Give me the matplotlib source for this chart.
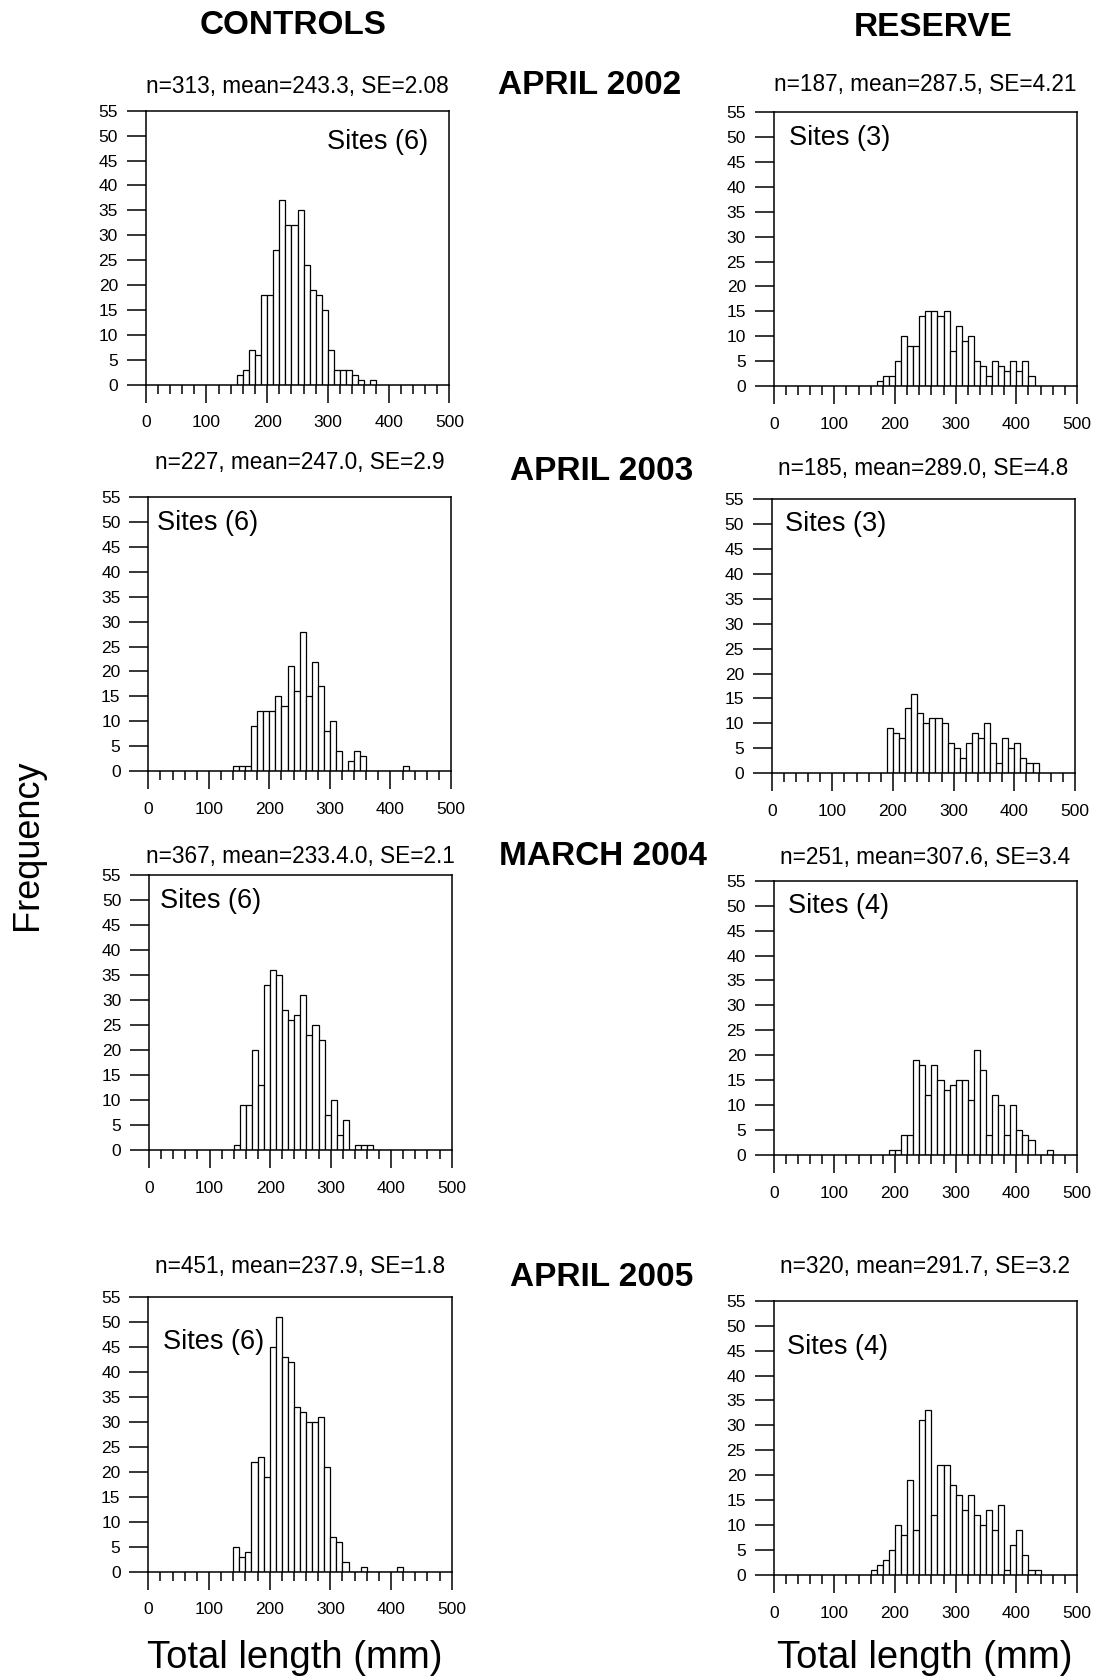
import matplotlib
matplotlib.use("Agg")
import matplotlib.pyplot as plt
import numpy as np
from matplotlib.ticker import MultipleLocator

plt.rcParams["font.family"] = ["Liberation Sans", "DejaVu Sans"]

# length-frequency counts in 10 mm classes; *_lo is the lower edge of the first class
bin_width = 10

ctrl_2002_lo = 150
ctrl_2002 = [2, 3, 7, 6, 18, 18, 27, 37, 32, 32, 35, 24, 19, 18, 15, 7, 3, 3, 3, 2, 1, 0, 1]
res_2002_lo = 170
res_2002 = [1, 2, 2, 5, 10, 8, 8, 14, 15, 15, 14, 15, 7, 12, 9, 10, 5, 4, 2, 5, 4, 3, 5, 3, 5, 2]

ctrl_2003_lo = 140
ctrl_2003 = [1, 1, 1, 9, 12, 12, 12, 15, 13, 21, 16, 28, 15, 22, 17, 8, 10, 4, 0, 2, 4, 3,
             0, 0, 0, 0, 0, 0, 1]
res_2003_lo = 190
res_2003 = [9, 8, 7, 13, 16, 12, 10, 11, 11, 10, 6, 5, 3, 6, 8, 7, 10, 6, 2, 7, 5, 6, 3, 2, 2]

ctrl_2004_lo = 140
ctrl_2004 = [1, 9, 9, 20, 13, 33, 36, 35, 28, 26, 27, 31, 23, 25, 22, 7, 10, 3, 6, 0, 1, 1, 1]
res_2004_lo = 190
res_2004 = [1, 1, 4, 4, 19, 18, 12, 18, 15, 13, 14, 15, 15, 11, 21, 17, 4, 12, 10, 4, 10, 5,
            4, 3, 0, 0, 1]

ctrl_2005_lo = 140
ctrl_2005 = [5, 3, 4, 22, 23, 19, 45, 51, 43, 42, 33, 32, 30, 30, 31, 21, 7, 6, 2, 0, 0, 1,
             0, 0, 0, 0, 0, 1]
res_2005_lo = 160
res_2005 = [1, 2, 3, 5, 10, 8, 19, 9, 31, 33, 12, 22, 22, 18, 16, 13, 16, 12, 10, 13, 9, 14,
            1, 6, 9, 4, 1, 1]

summaries = [
    "n=313, mean=243.3, SE=2.08", "n=187, mean=287.5, SE=4.21",
    "n=227, mean=247.0, SE=2.9", "n=185, mean=289.0, SE=4.8",
    "n=367, mean=233.4.0, SE=2.1", "n=251, mean=307.6, SE=3.4",
    "n=451, mean=237.9, SE=1.8", "n=320, mean=291.7, SE=3.2",
]
site_labels = ["Sites (6)", "Sites (3)", "Sites (6)", "Sites (3)",
               "Sites (6)", "Sites (4)", "Sites (6)", "Sites (4)"]
surveys = ["APRIL 2002", "APRIL 2003", "MARCH 2004", "APRIL 2005"]

panels = [
    (ctrl_2002_lo, ctrl_2002), (res_2002_lo, res_2002),
    (ctrl_2003_lo, ctrl_2003), (res_2003_lo, res_2003),
    (ctrl_2004_lo, ctrl_2004), (res_2004_lo, res_2004),
    (ctrl_2005_lo, ctrl_2005), (res_2005_lo, res_2005),
]

W, H = 1096, 1680
fig = plt.figure(figsize=(W / 100, H / 100), dpi=100)

# panel frames in pixels: left, top, right, bottom
boxes = [
    (145.7, 110.7, 449.3, 384.7), (773.7, 112.3, 1077, 386),
    (148.3, 497.3, 451, 771), (771.7, 499, 1075, 773.3),
    (149, 875.3, 451.7, 1150), (773.7, 880.7, 1077, 1155),
    (148.3, 1297.3, 451.7, 1571.7), (773.7, 1300.7, 1077, 1575),
]
title_y = [87, 85, 463, 468, 857, 858, 1266, 1267]
sites_xy = [(0.597, 0.887), (0.051, 0.905), (0.028, 0.905), (0.044, 0.909),
            (0.036, 0.907), (0.048, 0.909), (0.047, 0.838), (0.043, 0.830)]

for i, ((lo, counts), (l, t, r, b)) in enumerate(zip(panels, boxes)):
    ax = fig.add_axes([l / W, 1 - b / H, (r - l) / W, (b - t) / H])
    edges = lo + bin_width * np.arange(len(counts))
    ax.bar(edges, counts, width=bin_width, align="edge", facecolor="white",
           edgecolor="black", linewidth=0.9, zorder=2)
    ax.set_xlim(0, 500)
    ax.set_ylim(0, 55)
    ax.xaxis.set_major_locator(MultipleLocator(100))
    ax.xaxis.set_minor_locator(MultipleLocator(20))
    ax.yaxis.set_major_locator(MultipleLocator(5))
    ax.tick_params(axis="x", which="major", direction="out", length=13, width=1.1,
                   pad=9, labelsize=12.5)
    ax.tick_params(axis="x", which="minor", direction="out", length=6.5, width=1.1)
    ax.tick_params(axis="y", direction="out", length=14, width=1.1, pad=6, labelsize=12.5)
    for sp in ax.spines.values():
        sp.set_linewidth(1.1)
        sp.set_zorder(3)
    ax.text(*sites_xy[i], site_labels[i], transform=ax.transAxes, fontsize=19.5,
            ha="left", va="center")
    fig.text((l + r) / 2 / W, 1 - title_y[i] / H, summaries[i],
             fontsize=16.3, ha="center", va="center")

fig.text(293 / W, 1 - 25 / H, "CONTROLS", fontsize=24, fontweight="bold",
         ha="center", va="center")
fig.text(933 / W, 1 - 28 / H, "RESERVE", fontsize=24, fontweight="bold",
         ha="center", va="center")
for label, (x, y) in zip(surveys, [(590, 85), (602, 471), (603, 857), (602, 1278)]):
    fig.text(x / W, 1 - y / H, label, fontsize=24, fontweight="bold",
             ha="center", va="center")

fig.text(28 / W, 1 - 845 / H, "Frequency", fontsize=26, rotation=90,
         ha="center", va="center")
for x in (295, 925):
    fig.text(x / W, 1 - 1658 / H, "Total length (mm)", fontsize=27.5,
             ha="center", va="center")

fig.savefig("out.png", dpi=100, facecolor="white")
